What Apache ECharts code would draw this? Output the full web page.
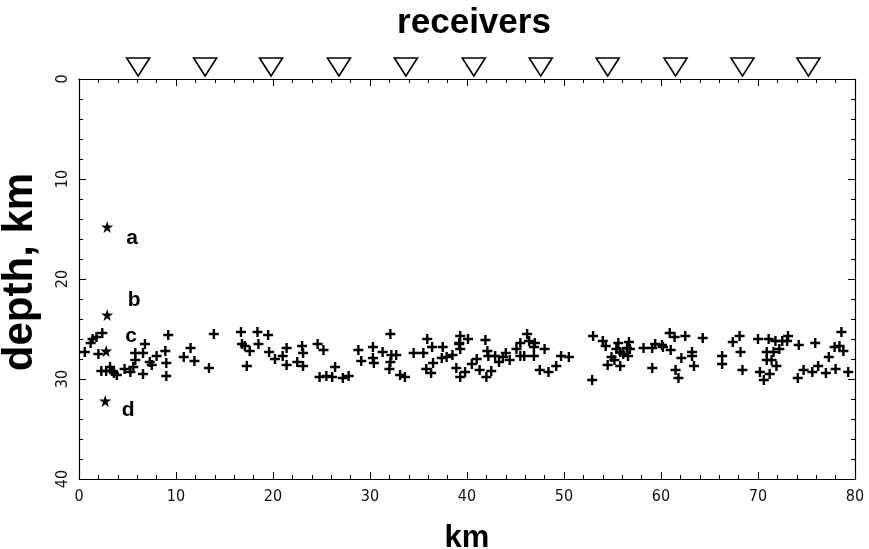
<!DOCTYPE html>
<html><head><meta charset="utf-8">
<script src="https://cdn.jsdelivr.net/npm/echarts@6/dist/echarts.min.js"></script>
<style>html,body{margin:0;padding:0;background:#fff}#c{width:869px;height:549px}</style>
</head><body><div id="c"></div>
<script>
// ---- data ----
const receiverX = [6.1, 13.0, 19.8, 26.8, 33.7, 40.7, 47.6, 54.5, 61.5, 68.4, 75.2];
const receiverDepth = [0, 0, 0, 0, 0, 0, 0, 0, 0, 0, 0];

const starNames = ['a', 'b', 'c', 'd'];
const starX = [2.9, 2.9, 2.8, 2.7];
const starDepth = [14.8, 23.6, 27.2, 32.2];

const quakeX = [
 0.6,1.2,1.4,1.8,2.4,2.0,2.3,2.8,3.2,3.4,3.6,3.9,4.7,5.3,5.6,5.8,5.8,6.6,6.8,6.6,
 7.3,7.5,8.0,8.9,9.0,9.0,9.2,10.8,11.5,11.9,13.4,13.9,16.7,16.8,17.1,17.6,18.4,18.5,17.3,19.5,
 19.6,20.2,21.0,21.4,21.4,22.5,23.0,23.1,23.1,24.6,25.2,24.8,25.5,26.1,26.4,27.2,27.8,28.8,29.1,30.3,
 30.3,30.4,31.3,32.1,32.2,32.1,32.0,32.7,33.1,33.6,34.5,35.5,35.9,36.4,35.8,36.3,36.5,37.4,37.5,37.9,
 38.5,38.9,39.2,39.3,39.2,39.3,40.1,41.9,42.1,42.2,42.9,41.0,44.0,43.7,45.1,45.5,46.2,46.4,47.0,46.9,
 48.0,45.5,45.9,46.9,49.7,50.5,53.0,54.0,54.3,54.9,55.4,55.6,55.8,56.1,56.5,56.7,56.8,56.6,58.2,59.1,
 59.4,60.1,60.2,61.0,60.9,61.4,62.5,62.1,63.2,63.2,64.3,66.3,67.4,68.1,68.2,70.0,71.1,71.8,72.5,73.1,
 73.0,72.2,70.9,71.6,70.9,71.4,74.2,75.9,77.3,77.9,78.4,78.6,78.8,39.3,39.8,40.5,41.3,42.0,42.5,43.3,
 44.4,47.5,48.4,49.2,52.9,54.5,55.2,55.8,59.1,61.5,61.8,63.4,66.3,68.4,70.2,70.6,71.2,71.9,74.1,74.7,
 75.6,76.2,77.0,78.0,79.3
];
const quakeDepth = [
 27.3,26.4,26.0,25.8,25.4,27.5,29.2,29.2,28.8,29.2,29.4,29.6,29.0,29.3,28.8,28.1,27.4,27.4,26.5,29.5,
 28.3,28.6,27.7,27.2,28.4,29.7,25.6,27.8,26.9,28.2,28.9,25.5,25.3,26.5,26.7,27.2,25.3,26.5,28.7,25.6,
 27.3,28.0,27.7,26.9,28.6,28.3,26.7,27.4,28.7,26.5,27.1,29.8,29.7,29.8,28.8,29.9,29.7,27.1,28.2,26.8,
 27.9,28.4,27.3,25.5,27.6,28.3,29.0,27.6,29.6,29.8,27.4,27.4,26.0,26.8,29.0,29.4,28.4,27.9,26.8,27.8,
 27.6,28.9,26.4,25.7,26.5,27.0,26.0,26.1,27.2,27.7,27.7,28.0,27.4,27.8,27.0,26.4,25.5,26.2,26.4,26.8,
 27.0,27.7,27.7,27.7,27.7,27.8,25.7,26.2,26.7,27.8,27.0,26.4,27.3,27.5,26.9,26.3,27.0,27.7,26.9,26.9,
 26.5,26.6,26.8,27.1,25.4,25.8,25.7,27.9,27.3,27.7,25.9,27.7,26.3,25.7,27.3,26.0,26.0,26.2,26.2,25.7,
 26.2,27.0,27.3,27.3,28.1,28.1,26.6,26.4,27.8,26.8,26.7,25.3,27.2,29.8,29.3,28.5,29.1,29.8,29.2,28.3,
 28.1,29.1,29.3,28.7,30.1,28.6,28.1,28.7,28.9,29.1,29.9,28.7,28.5,29.1,29.3,30.1,29.5,28.7,29.9,29.1,
 29.3,28.7,29.4,29.0,29.3
];

const xTicks = ['0','10','20','30','40','50','60','70','80'];
const yTicks = ['0','10','20','30','40'];

// ---- chart ----
const chart = echarts.init(document.getElementById('c'), null, {renderer: 'canvas'});
const tickFont = "'Liberation Sans Narrow','DejaVu Sans Condensed','Liberation Sans',sans-serif";
const boldFont = "'Liberation Sans','Arial',sans-serif";
const plusPath = 'path://M3.8,0 L6.2,0 L6.2,3.8 L10,3.8 L10,6.2 L6.2,6.2 L6.2,10 L3.8,10 L3.8,6.2 L0,6.2 L0,3.8 L3.8,3.8 Z';
const starPath = 'path://M50,0 L61,35 L98,35 L68,57 L79,91 L50,70 L21,91 L32,57 L2,35 L39,35 Z';
const letterOffsets = {a: [25, 11], b: [27, -15], c: [25, -15], d: [23, 9]};

const axisLine = {show: true, onZero: false, lineStyle: {color: '#000', width: 1.2}};
const tick = {show: true, inside: true, length: 7, lineStyle: {color: '#000', width: 1}};
const minor = {show: true, splitNumber: 5, length: 4, lineStyle: {color: '#000', width: 1}};

chart.setOption({
  animation: false,
  backgroundColor: '#fff',
  title: {
    text: 'receivers', left: 469, textAlign: 'center', top: 1,
    textStyle: {fontFamily: boldFont, fontWeight: 'bold', fontSize: 35, color: '#000'}
  },
  grid: {left: 79, right: 14, top: 79, bottom: 70, containLabel: false, outerBoundsMode: 'none'},
  xAxis: [{
    type: 'value', min: 0, max: 80, interval: 10, position: 'bottom',
    name: 'km', nameLocation: 'middle', nameGap: 44,
    nameTextStyle: {fontFamily: boldFont, fontWeight: 'bold', fontSize: 31, color: '#000'},
    axisLine: axisLine, axisTick: tick, minorTick: minor,
    splitLine: {show: false}, minorSplitLine: {show: false},
    axisLabel: {margin: 10, fontFamily: tickFont, fontSize: 16, color: '#111',
      formatter: (v) => xTicks[Math.round(v / 10)]}
  }, {
    type: 'value', min: 0, max: 80, interval: 10, position: 'top',
    axisLine: axisLine, axisTick: tick, minorTick: minor,
    splitLine: {show: false}, axisLabel: {show: false}
  }],
  yAxis: [{
    type: 'value', min: 0, max: 40, interval: 10, inverse: true, position: 'left',
    name: 'depth, km', nameLocation: 'middle', nameGap: 38, nameRotate: 90,
    nameTextStyle: {fontFamily: boldFont, fontWeight: 'bold', fontSize: 42, color: '#000', padding: [0, 0, 0, 14]},
    axisLine: axisLine, axisTick: tick, minorTick: minor,
    splitLine: {show: false},
    axisLabel: {rotate: 90, margin: 8, fontFamily: tickFont, fontSize: 16, color: '#111',
      formatter: (v) => yTicks[Math.round(v / 10)]}
  }, {
    type: 'value', min: 0, max: 40, interval: 10, inverse: true, position: 'right',
    axisLine: axisLine, axisTick: tick, minorTick: minor,
    splitLine: {show: false}, axisLabel: {show: false}
  }],
  series: [{
    type: 'scatter', name: 'events', symbol: plusPath, symbolSize: 10,
    itemStyle: {color: '#000', opacity: 1},
    data: quakeX.map((x, i) => [x, quakeDepth[i]])
  }, {
    type: 'scatter', name: 'stars', symbol: starPath, symbolSize: 12,
    itemStyle: {color: '#000', opacity: 1},
    data: starX.map((x, i) => ({
      value: [x, starDepth[i]],
      label: {show: true, formatter: starNames[i], position: 'inside',
        offset: letterOffsets[starNames[i]],
        fontFamily: boldFont, fontWeight: 'bold', fontSize: 21, color: '#000'}
    }))
  }, {
    type: 'scatter', name: 'receivers', clip: false,
    symbol: 'triangle', symbolRotate: 180, symbolSize: [23, 18], symbolOffset: [0, -12],
    itemStyle: {color: '#fff', borderColor: '#000', borderWidth: 1.6, opacity: 1},
    data: receiverX.map((x, i) => [x, receiverDepth[i]])
  }]
});
</script>
</body></html>
